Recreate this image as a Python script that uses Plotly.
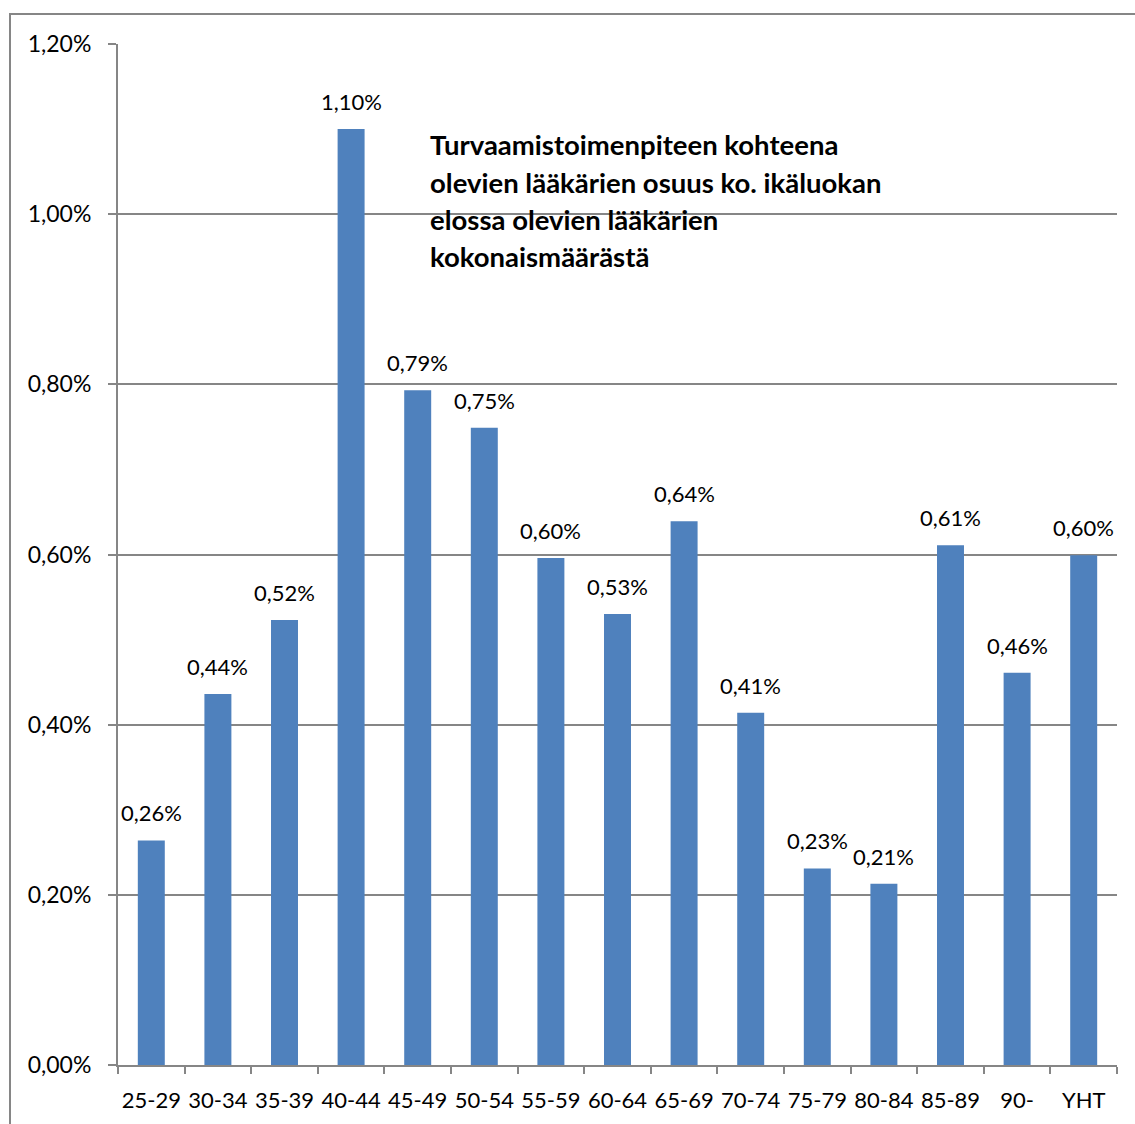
import plotly.graph_objects as go

categories = ["25-29", "30-34", "35-39", "40-44", "45-49", "50-54", "55-59",
              "60-64", "65-69", "70-74", "75-79", "80-84", "85-89", "90-", "YHT"]
values_pct = [0.264, 0.436, 0.523, 1.100, 0.793, 0.749, 0.596,
              0.530, 0.639, 0.414, 0.231, 0.213, 0.611, 0.461, 0.599]
y_ticks = [0.0, 0.2, 0.4, 0.6, 0.8, 1.0, 1.2]
title_lines = ["Turvaamistoimenpiteen kohteena",
               "olevien lääkärien osuus ko. ikäluokan",
               "elossa olevien lääkärien",
               "kokonaismäärästä"]

def fmt(v):
    return f"{v:.2f}%".replace(".", ",")

W, H = 1135, 1124
L, R, T, B = 118, 18, 44, 59
pw, ph = W - L - R, H - T - B

def px_x(px):
    return (px - L) / pw

def px_y(py):
    return (H - B - py) / ph

FONT = "Lato"

fig = go.Figure(go.Bar(
    x=categories, y=values_pct,
    marker=dict(color="#4F81BD", line=dict(width=0)),
    hoverinfo="x+y",
))

annotations = []
for c, v in zip(categories, values_pct):
    annotations.append(dict(
        text=fmt(v), x=c, y=v, xref="x", yref="y",
        xanchor="center", yanchor="bottom", yshift=12,
        showarrow=False, font=dict(family=FONT, size=22, color="#000000"),
    ))
for i, line in enumerate(title_lines):
    annotations.append(dict(
        text=f"<b>{line}</b>", x=px_x(428), y=px_y(145 + i * 37.3),
        xref="paper", yref="paper", xanchor="left", yanchor="middle",
        showarrow=False, font=dict(family=FONT, size=27.5, color="#000000"),
        align="left",
    ))

fig.update_layout(
    width=W, height=H,
    margin=dict(l=L, r=R, t=T, b=B),
    paper_bgcolor="white", plot_bgcolor="white",
    bargap=0.595,
    showlegend=False,
    annotations=annotations,
    font=dict(family=FONT, size=22, color="#000000"),
    shapes=[dict(type="rect", xref="paper", yref="paper",
                 x0=px_x(10), x1=px_x(1300), y0=px_y(1300), y1=px_y(14),
                 line=dict(color="#868686", width=2), layer="below")],
)
fig.update_xaxes(
    showline=True, linecolor="#868686", linewidth=2,
    ticks="outside", tickson="boundaries", ticklen=7, tickcolor="#868686", tickwidth=2,
    tickfont=dict(family=FONT, size=22, color="#000000"),
    tickangle=0, ticklabelstandoff=15,
    showgrid=False,
)
fig.update_yaxes(
    range=[0, 1.2], tickvals=y_ticks, ticktext=[fmt(v) for v in y_ticks],
    showline=True, linecolor="#868686", linewidth=2,
    ticks="outside", ticklen=8, tickcolor="#868686", tickwidth=2,
    showgrid=True, gridcolor="#868686", gridwidth=2,
    tickfont=dict(family=FONT, size=23, color="#000000"),
    ticklabelstandoff=12,
    zeroline=False,
)
fig.write_html("out.html")
